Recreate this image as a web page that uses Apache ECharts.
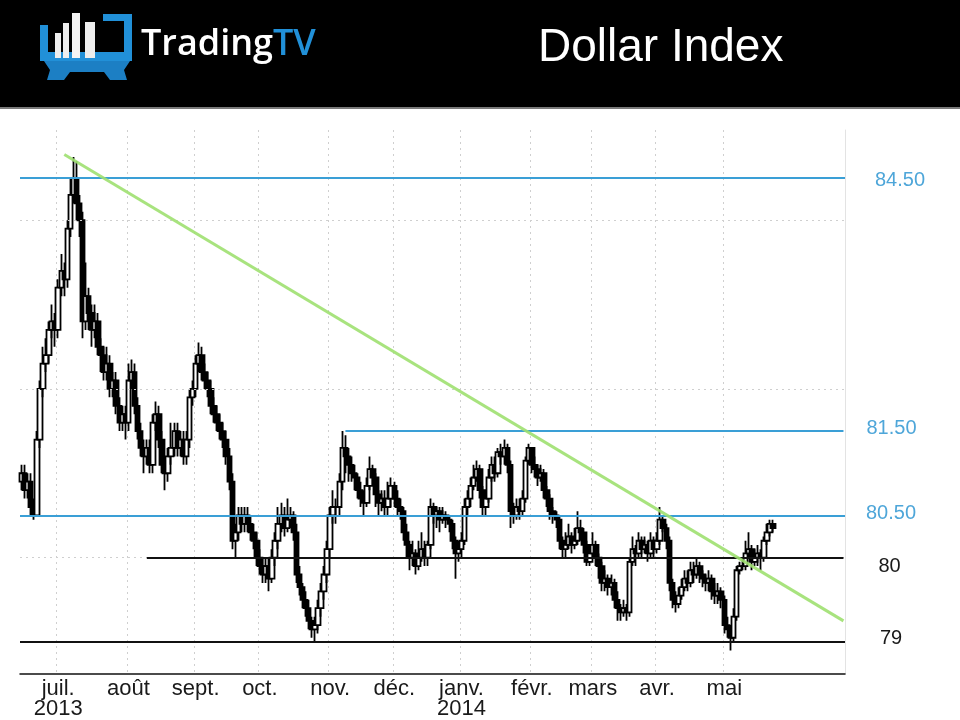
<!DOCTYPE html>
<html><head><meta charset="utf-8">
<script src="https://cdn.jsdelivr.net/npm/echarts@6/dist/echarts.min.js"></script>
<style>html,body{margin:0;padding:0;background:#fff}#c{width:960px;height:720px}</style>
</head><body><div id="c"></div>
<script>
// ---------------- DATA ----------------
const startDate = '2013-06-13';   // first trading day shown
const categoryCount = 270;        // weekdays on the axis (data + empty room on the right)
const firstOpen = 80.9;
const closes = [
81.0,80.8,80.9,80.6,80.5,81.4,82.0,82.3,82.4,82.7,
82.8,82.7,83.2,83.4,83.3,83.9,84.3,84.5,84.2,84.0,
82.8,83.1,82.9,82.7,82.8,82.5,82.4,82.2,82.3,82.0,
82.1,81.8,81.6,81.7,81.6,82.1,82.2,81.8,81.5,81.3,
81.2,81.3,81.1,81.6,81.7,81.4,81.1,81.0,81.2,81.3,
81.5,81.3,81.4,81.2,81.4,81.9,82.0,82.3,82.4,82.2,
82.1,82.0,81.8,81.7,81.6,81.5,81.4,81.2,80.9,80.2,
80.3,80.5,80.4,80.5,80.4,80.3,80.2,80.0,79.9,79.8,
79.9,79.75,80.0,80.2,80.4,80.5,80.35,80.45,80.5,80.3,
79.8,79.65,79.5,79.4,79.25,79.15,79.2,79.4,79.6,79.8,
80.1,80.5,80.6,80.6,80.9,81.3,81.2,81.1,81.0,80.95,
80.8,80.7,80.65,80.85,81.05,80.95,80.75,80.65,80.7,80.6,
80.7,80.85,80.7,80.6,80.55,80.3,80.15,80.0,80.05,79.9,
80.0,80.1,80.0,80.15,80.6,80.5,80.55,80.45,80.5,80.45,
80.4,80.2,80.05,80.1,80.2,80.6,80.7,80.85,80.95,81.05,
80.8,80.6,80.7,80.95,81.1,81.0,81.25,81.2,81.3,81.1,
80.55,80.5,80.6,80.55,80.7,81.15,81.3,81.1,81.05,80.95,
81.0,80.8,80.7,80.55,80.5,80.45,80.2,80.1,80.15,80.25,
80.15,80.2,80.35,80.3,80.15,79.95,80.05,80.15,80.0,79.9,
79.7,79.75,79.65,79.7,79.5,79.4,79.35,79.4,79.35,79.95,
80.1,80.05,80.2,80.1,80.15,80.05,80.2,80.1,80.2,80.45,
80.35,80.2,79.7,79.5,79.45,79.55,79.65,79.75,79.7,79.85,
79.8,79.9,79.8,79.75,79.7,79.75,79.6,79.55,79.6,79.5,
79.2,79.15,79.05,79.3,79.85,79.9,79.9,80.05,80.1,79.95,
80.0,80.05,80.0,80.2,80.3,80.4,80.35
];
const highs = [
81.1,81.1,81.0,81.0,80.7,81.5,82.1,82.5,82.6,82.8,
83.0,82.9,83.3,83.6,83.5,84.0,84.5,84.75,84.7,84.3,
84.1,83.5,83.2,83.0,83.0,82.9,82.6,82.5,82.5,82.4,
82.2,82.2,81.9,81.8,81.8,82.3,82.35,82.3,81.9,81.6,
81.4,81.4,81.4,81.7,81.85,81.8,81.5,81.2,81.3,81.6,
81.6,81.6,81.5,81.5,81.5,82.0,82.1,82.4,82.55,82.5,
82.3,82.2,82.1,81.9,81.8,81.7,81.6,81.5,81.3,81.0,
80.4,80.6,80.6,80.6,80.6,80.5,80.4,80.3,80.1,80.0,
80.0,80.0,80.1,80.3,80.6,80.65,80.6,80.7,80.6,80.55,
80.4,79.9,79.7,79.6,79.5,79.3,79.3,79.5,79.7,79.9,
80.2,80.6,80.8,80.7,81.0,81.5,81.45,81.3,81.2,81.1,
81.0,80.9,80.8,80.95,81.2,81.1,81.0,80.8,80.8,80.8,
80.9,80.95,80.9,80.8,80.7,80.6,80.4,80.2,80.2,80.1,
80.2,80.3,80.2,80.2,80.7,80.65,80.6,80.6,80.6,80.55,
80.5,80.45,80.25,80.2,80.3,80.7,80.8,80.95,81.1,81.15,
81.1,80.85,80.8,81.05,81.2,81.2,81.3,81.35,81.4,81.35,
81.15,80.65,80.7,80.7,80.8,81.2,81.35,81.3,81.2,81.1,
81.1,81.05,80.85,80.75,80.6,80.55,80.5,80.25,80.3,80.4,
80.3,80.35,80.55,80.45,80.35,80.2,80.1,80.3,80.2,80.05,
79.95,79.85,79.8,79.8,79.75,79.6,79.45,79.5,79.45,80.0,
80.25,80.15,80.3,80.25,80.25,80.2,80.3,80.25,80.3,80.6,
80.5,80.4,80.25,79.75,79.6,79.65,79.75,79.85,79.85,79.95,
79.95,80.0,79.95,79.85,79.8,79.85,79.8,79.7,79.7,79.65,
79.55,79.3,79.2,79.4,79.9,79.95,80.0,80.2,80.3,80.15,
80.1,80.15,80.1,80.25,80.4,80.45,80.45
];
const lows = [
80.8,80.7,80.7,80.5,80.45,80.5,81.3,81.9,82.2,82.3,
82.6,82.5,82.6,83.1,83.1,83.2,83.8,84.2,84.0,83.8,
82.6,82.7,82.7,82.5,82.6,82.4,82.2,82.1,82.1,81.9,
81.9,81.7,81.5,81.5,81.4,81.5,82.0,81.7,81.4,81.2,
81.0,81.1,81.0,81.0,81.5,81.3,81.0,80.8,80.9,81.1,
81.2,81.2,81.2,81.1,81.1,81.3,81.8,81.9,82.2,82.1,
82.0,81.9,81.7,81.6,81.5,81.4,81.3,81.1,80.8,80.1,
80.0,80.2,80.3,80.3,80.3,80.2,80.1,79.9,79.8,79.7,
79.7,79.6,79.7,79.9,80.1,80.3,80.25,80.3,80.35,80.2,
79.7,79.55,79.4,79.3,79.15,79.05,79.0,79.1,79.3,79.5,
79.7,80.0,80.4,80.4,80.5,80.8,81.0,80.9,80.9,80.8,
80.7,80.6,80.5,80.6,80.8,80.85,80.6,80.5,80.55,80.5,
80.5,80.6,80.6,80.5,80.45,80.2,80.0,79.85,79.9,79.8,
79.85,79.95,79.9,79.9,80.1,80.4,80.35,80.3,80.4,80.35,
80.3,80.1,79.75,79.95,80.0,80.15,80.5,80.6,80.8,80.9,
80.7,80.5,80.5,80.65,80.9,80.9,80.95,81.1,81.1,81.0,
80.35,80.4,80.45,80.45,80.5,80.65,81.1,81.0,80.95,80.85,
80.9,80.7,80.6,80.45,80.4,80.35,80.1,80.0,80.0,80.1,
80.05,80.1,80.15,80.2,80.05,79.9,79.9,80.0,79.9,79.75,
79.6,79.6,79.55,79.55,79.4,79.25,79.25,79.3,79.25,79.3,
79.9,79.9,80.0,80.0,80.05,79.95,80.0,80.0,80.05,80.15,
80.3,80.1,79.6,79.4,79.35,79.4,79.5,79.6,79.6,79.65,
79.7,79.75,79.7,79.65,79.6,79.6,79.5,79.45,79.45,79.4,
79.1,79.05,78.9,79.0,79.25,79.8,79.85,79.85,80.0,79.85,
79.9,79.9,79.85,79.95,80.15,80.25,80.3
];
const monthLabels = {
  '2013-07':'juil.\n2013','2013-08':'août','2013-09':'sept.','2013-10':'oct.',
  '2013-11':'nov.','2013-12':'déc.','2014-01':'janv.\n2014','2014-02':'févr.',
  '2014-03':'mars','2014-04':'avr.','2014-05':'mai'
};
const levelValues = [84.5, 81.5, 80.5, 80, 79];
const levelLabels = ['84.50', '81.50', '80.50', '80', '79'];
const levelStarts = [null, '2013-11-08', null, '2013-08-09', null];
const levelKinds  = ['blue', 'blue', 'blue', 'black', 'black'];
const gridValues  = [80, 82, 84];
const trendStart  = ['2013-07-03', 84.78];
const trendEndValue = 79.25;

// ---------------- STYLE ----------------
const kindStyle = {
  blue:  { line: '#3a9fd6', text: '#4ea6d9' },
  black: { line: '#111111', text: '#1a1a1a' }
};
const labelGap   = [30, 23, 21, 35, 35];
const labelShift = [2, -3, -2, 9, -3];

// ---------------- BUILD ----------------
const dates = [];
{
  const d = new Date(startDate + 'T00:00:00Z');
  while (dates.length < categoryCount) {
    const wd = d.getUTCDay();
    if (wd !== 0 && wd !== 6) dates.push(d.toISOString().slice(0, 10));
    d.setUTCDate(d.getUTCDate() + 1);
  }
}
const lastDate = dates[dates.length - 1];
const monthStart = new Set();
{
  let prev = '';
  dates.forEach((s, i) => {
    const m = s.slice(0, 7);
    if (m !== prev) { if (monthLabels[m]) monthStart.add(i); prev = m; }
  });
}
const candles = closes.map((c, i) => [i === 0 ? firstOpen : closes[i - 1], c, lows[i], highs[i]]);

const levelLines = levelValues.map((v, k) => {
  const st = kindStyle[levelKinds[k]];
  const s = labelShift[k];
  const txt = s > 0 ? '\n' + levelLabels[k] : levelLabels[k] + '\n';
  const first = {
    lineStyle: { color: st.line, width: 2, type: 'solid' },
    label: {
      show: true, position: 'end', formatter: txt, distance: labelGap[k],
      color: st.text, fontSize: 20, lineHeight: Math.max(2 * Math.abs(s), 1),
      fontFamily: 'Liberation Sans, Arial, sans-serif'
    }
  };
  if (levelStarts[k] === null) return Object.assign({ yAxis: v }, first);
  return [Object.assign({ coord: [levelStarts[k], v] }, first), { coord: [lastDate, v] }];
});

const chart = echarts.init(document.getElementById('c'), null, { renderer: 'canvas' });
chart.setOption({
  animation: false,
  backgroundColor: '#ffffff',
  grid: { left: 20, right: 115, top: 130, bottom: 45 },
  xAxis: {
    type: 'category', data: dates, boundaryGap: true,
    axisLine: { onZero: false, lineStyle: { color: '#111', width: 1.5 } },
    axisTick: { show: false },
    axisLabel: {
      interval: (i) => monthStart.has(i),
      formatter: (v) => monthLabels[v.slice(0, 7)] || '',
      color: '#1a1a1a', fontSize: 22, lineHeight: 20, margin: 5,
      fontFamily: 'Liberation Sans, Arial, sans-serif'
    },
    splitLine: {
      show: true, interval: (i) => monthStart.has(i),
      lineStyle: { color: '#cfcfcf', width: 1, type: [2, 4] }
    }
  },
  yAxis: {
    type: 'value', min: 78.62, max: 85.07, position: 'right',
    axisLine: { show: true, lineStyle: { color: '#e3e3e3', width: 1 } },
    axisTick: { show: false }, axisLabel: { show: false }, splitLine: { show: false }
  },
  series: [
    {
      type: 'line', data: [], z: 1, silent: true,
      markLine: {
        silent: true, symbol: 'none', animation: false,
        label: { show: false },
        lineStyle: { color: '#cfcfcf', width: 1, type: [2, 4] },
        data: gridValues.map(v => ({ yAxis: v }))
      }
    },
    {
      type: 'candlestick', data: candles, z: 2, barWidth: 5,
      itemStyle: { color: '#ffffff', color0: '#000000', borderColor: '#000000', borderColor0: '#000000', borderWidth: 1.8 }
    },
    {
      type: 'line', data: [], z: 3, silent: true,
      markLine: { silent: true, symbol: 'none', animation: false, data: levelLines }
    },
    {
      type: 'line', data: [], z: 4, silent: true,
      markLine: {
        silent: true, symbol: 'none', animation: false, label: { show: false },
        lineStyle: { color: '#9fe070', width: 3, type: 'solid', opacity: 0.9 },
        data: [[{ coord: trendStart }, { coord: [lastDate, trendEndValue] }]]
      }
    }
  ],
  graphic: [
    { type: 'rect', shape: { x: 0, y: 0, width: 960, height: 107 }, style: { fill: '#000' } },
    { type: 'rect', shape: { x: 0, y: 107, width: 960, height: 2 }, style: { fill: '#7a7a7a' } },
    // logo
    { type: 'rect', shape: { x: 40, y: 25, width: 8, height: 33 }, style: { fill: '#2190d8' } },
    { type: 'rect', shape: { x: 40, y: 52, width: 92, height: 9 }, style: { fill: '#2190d8' } },
    { type: 'rect', shape: { x: 103, y: 14, width: 29, height: 7 }, style: { fill: '#2190d8' } },
    { type: 'rect', shape: { x: 124, y: 14, width: 8, height: 47 }, style: { fill: '#2190d8' } },
    { type: 'polygon', shape: { points: [[44,61],[130,61],[124,70],[127,80],[110,80],[104,72],[70,72],[64,80],[47,80],[50,70]] }, style: { fill: '#1c7fc4' } },
    { type: 'rect', shape: { x: 55, y: 33, width: 6, height: 25 }, style: { fill: '#eeeeee' } },
    { type: 'rect', shape: { x: 63, y: 23, width: 6, height: 35 }, style: { fill: '#eeeeee' } },
    { type: 'rect', shape: { x: 72, y: 13, width: 8, height: 45 }, style: { fill: '#f4f4f4' } },
    { type: 'rect', shape: { x: 85, y: 22, width: 10, height: 36 }, style: { fill: '#eeeeee' } },
    {
      type: 'text', x: 141, y: 45,
      style: {
        text: '{a|Trading}{b|TV}', verticalAlign: 'middle',
        rich: {
          a: { fill: '#ffffff', fontSize: 36, fontWeight: 600, fontFamily: 'Open Sans' },
          b: { fill: '#2190d8', fontSize: 36, fontWeight: 600, fontFamily: 'Open Sans' }
        }
      }
    },
    {
      type: 'text', x: 538, y: 48,
      style: { text: 'Dollar Index', fill: '#ffffff', font: '46px "Liberation Sans"', verticalAlign: 'middle' }
    }
  ]
});
</script>
</body></html>
